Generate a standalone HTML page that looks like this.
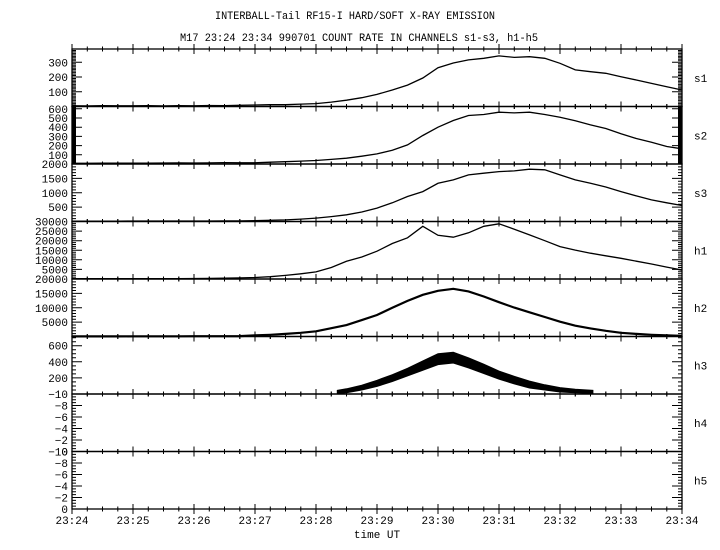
<!DOCTYPE html>
<html><head><meta charset="utf-8"><style>
html,body{margin:0;padding:0;background:#fff;}
svg{display:block;}
text{font-family:"Liberation Mono",monospace;font-size:11px;fill:#000;}
</style></head><body>
<svg id="chart" width="720" height="550" viewBox="0 0 720 550" xmlns="http://www.w3.org/2000/svg">
<text x="215" y="19" textLength="280" lengthAdjust="spacingAndGlyphs">INTERBALL-Tail RF15-I HARD/SOFT X-RAY EMISSION</text>
<text x="180" y="41" textLength="358" lengthAdjust="spacingAndGlyphs">M17  23:24 23:34 990701  COUNT RATE IN CHANNELS s1-s3, h1-h5</text>
<text x="377" y="538" text-anchor="middle">time UT</text>
<g id="plots"></g>
</svg>
<script>
// time samples in minutes after 23:24, step 0.25
const timeStart = 0, timeStep = 0.25;
const xTickLabels = ["23:24","23:25","23:26","23:27","23:28","23:29","23:30","23:31","23:32","23:33","23:34"];
const channelNames = ["s1","s2","s3","h1","h2","h3","h4","h5"];
const s1Values = [5,4,6,5,5,6,4,6,5,7,6,8,10,12,12,16,20,30,43,60,82,112,145,193,263,295,316,327,343,333,338,327,293,248,236,225,202,180,157,134,112];
const s2Values = [8,8,9,10,9,10,11,12,11,12,15,13,13,20,25,32,38,50,63,85,110,150,208,310,400,473,527,538,563,555,563,538,509,470,425,386,328,277,237,190,165];
const s3Values = [15,15,15,15,16,16,16,17,17,18,20,20,30,40,55,85,118,170,232,330,465,650,868,1040,1330,1447,1620,1680,1735,1760,1818,1800,1620,1447,1330,1200,1040,890,750,650,555];
const h1Values = [150,150,160,170,180,190,200,220,250,300,400,550,800,1200,1900,2700,3700,6000,9250,11500,14500,18500,21500,27500,22800,21800,24100,27500,28800,26000,23000,20000,16900,15100,13440,12100,10820,9300,7850,6200,4700];
const h2Values = [50,50,50,50,60,60,70,80,90,100,120,140,400,600,900,1300,1800,2900,3980,5700,7490,10000,12400,14500,15900,16600,15670,13900,11930,10060,8420,6780,5150,3740,2800,1990,1290,900,600,400,250];
const h3Times = [4.35,4.5,4.75,5,5.25,5.5,5.75,6,6.25,6.5,6.75,7,7.25,7.5,7.75,8,8.25,8.54];
const h3Upper = [45,65,110,170,240,320,410,500,520,450,370,285,220,160,115,80,60,45];
const h3Lower = [5,15,50,95,155,225,295,365,385,325,255,185,125,75,50,25,15,8];
// y-axis ranges: [bottom value, top value]
const yRanges = [[0,390],[0,625],[0,2000],[0,30000],[0,20000],[0,715],[0,-10],[0,-10]];
const yMajorLabels = [[100,200,300],[100,200,300,400,500,600],[500,1000,1500,2000],[5000,10000,15000,20000,25000,30000],[5000,10000,15000,20000],[200,400,600],[0,-2,-4,-6,-8,-10],[0,-2,-4,-6,-8,-10]];
const yMinorSteps = [10,10,100,1000,1000,50,0.5,0.5];

const NS="http://www.w3.org/2000/svg";
const g=document.getElementById('plots');
const L=72, R=682, PX=61, TOP=49, PH=57.5;
function X(t){return L+PX*t;}
function Y(i,v){const r=yRanges[i];const b=TOP+PH*(i+1);return b-(v-r[0])/(r[1]-r[0])*PH;}
function mk(tag,attrs){const e=document.createElementNS(NS,tag);for(const k in attrs)e.setAttribute(k,attrs[k]);g.appendChild(e);return e;}
function linePath(i,vals){return vals.map((v,k)=>(k?'L':'M')+X(timeStart+k*timeStep).toFixed(1)+','+Y(i,v).toFixed(1)).join('');}

for(let i=0;i<8;i++){
  const top=TOP+PH*i, bot=top+PH;
  const fr=mk('rect',{x:L,y:top,width:R-L,height:PH,fill:'none',stroke:'#000','stroke-width':1.3});
  
  
  const cl=mk('text',{x:694,y:(top+PH/2+4).toFixed(1)});cl.textContent=channelNames[i];
  
  
  let d='';
  for(let q=0;q<=40;q++){const x=X(q*0.25).toFixed(1);const len=(q%4===0)?5:2.5;d+='M'+x+','+(top-len)+'V'+(top+len)+'M'+x+','+(bot-len)+'V'+(bot+len);}
  const r=yRanges[i], lo=Math.min(r[0],r[1]), hi=Math.max(r[0],r[1]);
  const ms=yMinorSteps[i];
  for(let v=lo;v<=hi+1e-9;v+=ms){const y=Y(i,v).toFixed(1);d+='M'+L+','+y+'h4M'+R+','+y+'h-4';}
  yMajorLabels[i].forEach(v=>{const y=Y(i,v);d+='M'+L+','+y.toFixed(1)+'h10M'+R+','+y.toFixed(1)+'h-10';
    const tl=mk('text',{x:68,y:(y+4).toFixed(1),'text-anchor':'end'});tl.textContent=String(v).replace('-','\u2212');
    
    });
  const tk=mk('path',{d:d,stroke:'#000','stroke-width':1,fill:'none'});
  
  
}
xTickLabels.forEach((s,k)=>{const t=mk('text',{x:X(k),y:524,'text-anchor':'middle'});t.textContent=s;
  
  });
[[0,s1Values],[1,s2Values],[2,s3Values],[3,h1Values]].forEach(([i,v])=>{
  const p=mk('path',{d:linePath(i,v),fill:'none',stroke:'#000','stroke-width':1.3});
  
  
});
const p2=mk('path',{d:linePath(4,h2Values),fill:'none',stroke:'#000','stroke-width':2.2});


let pts=h3Times.map((t,k)=>X(t).toFixed(1)+','+Y(5,h3Upper[k]).toFixed(1));
for(let k=h3Times.length-1;k>=0;k--)pts.push(X(h3Times[k]).toFixed(1)+','+Y(5,h3Lower[k]).toFixed(1));
const p3=mk('polygon',{points:pts.join(' '),fill:'#000',stroke:'#000','stroke-width':1});


</script>
</body></html>
